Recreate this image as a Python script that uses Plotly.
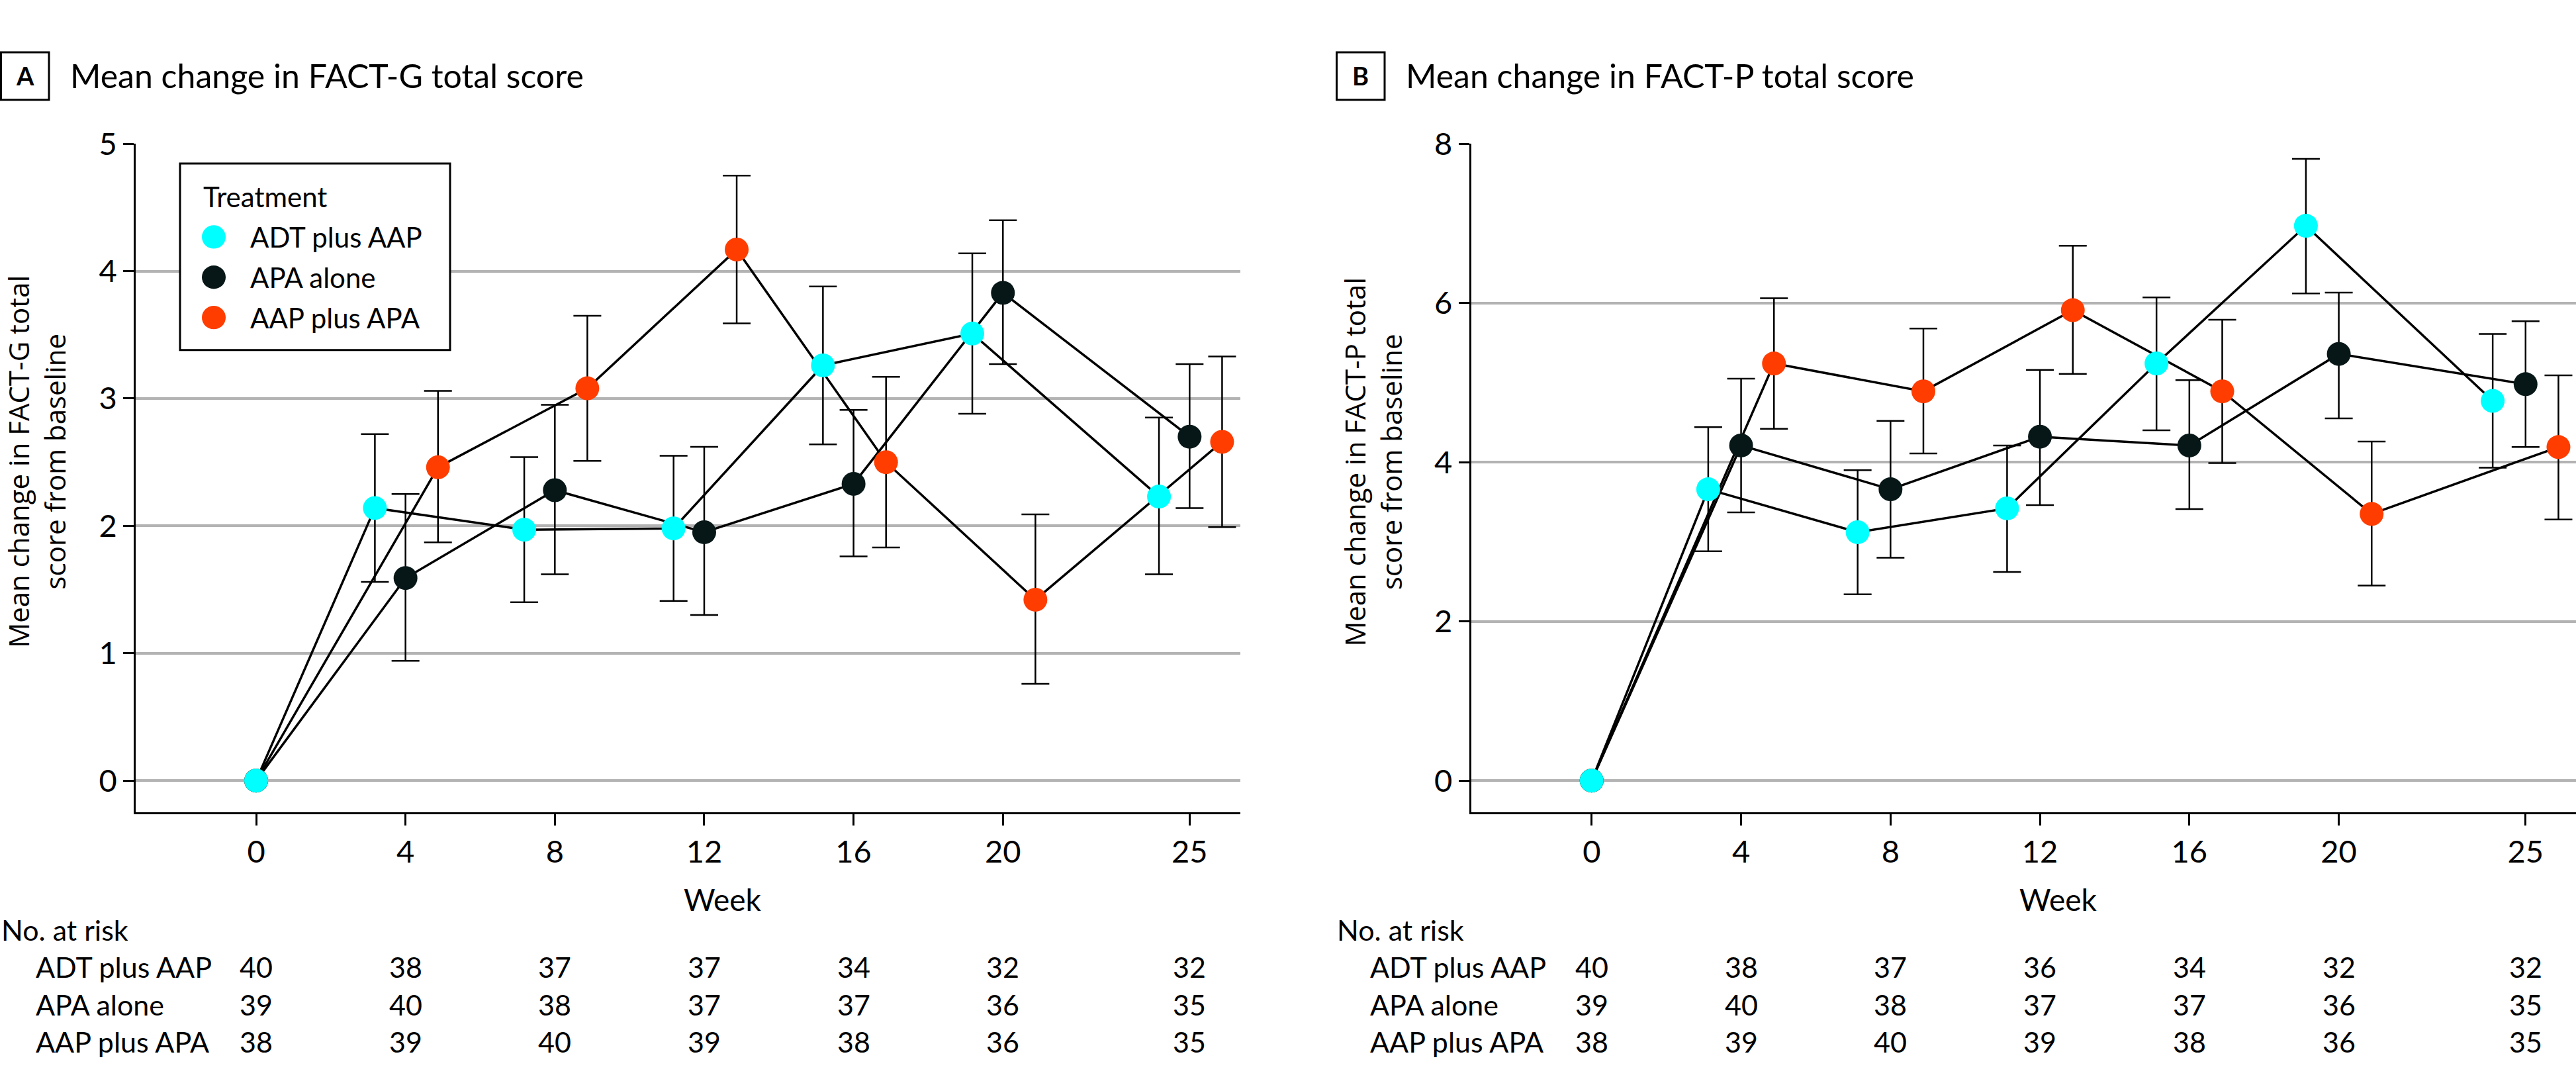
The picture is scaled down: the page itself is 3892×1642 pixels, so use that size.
import plotly.graph_objects as go

W, H = 3892, 1642
FONT = "Lato"
YFONT = "Open Sans"

weeks = [0, 4, 8, 12, 16, 20, 25]
groups = ["ADT plus AAP", "APA alone", "AAP plus APA"]
colors = ["#00ffff", "#071717", "#ff3d00"]

# FACT-G mean change and 95% CI
factg_adt = [0, 2.14, 1.97, 1.98, 3.26, 3.51, 2.23]
factg_adt_lo = [None, 1.56, 1.40, 1.41, 2.64, 2.88, 1.62]
factg_adt_hi = [None, 2.72, 2.54, 2.55, 3.88, 4.14, 2.85]
factg_apa = [0, 1.59, 2.28, 1.95, 2.33, 3.83, 2.70]
factg_apa_lo = [None, 0.94, 1.62, 1.30, 1.76, 3.27, 2.14]
factg_apa_hi = [None, 2.25, 2.95, 2.62, 2.91, 4.40, 3.27]
factg_combo = [0, 2.46, 3.08, 4.17, 2.50, 1.42, 2.66]
factg_combo_lo = [None, 1.87, 2.51, 3.59, 1.83, 0.76, 1.99]
factg_combo_hi = [None, 3.06, 3.65, 4.75, 3.17, 2.09, 3.33]

# FACT-P mean change and 95% CI
factp_adt = [0, 3.66, 3.12, 3.42, 5.24, 6.97, 4.77]
factp_adt_lo = [None, 2.88, 2.34, 2.62, 4.40, 6.12, 3.93]
factp_adt_hi = [None, 4.44, 3.90, 4.21, 6.07, 7.81, 5.61]
factp_apa = [0, 4.21, 3.66, 4.32, 4.21, 5.36, 4.98]
factp_apa_lo = [None, 3.37, 2.80, 3.46, 3.41, 4.55, 4.19]
factp_apa_hi = [None, 5.05, 4.52, 5.16, 5.03, 6.13, 5.77]
factp_combo = [0, 5.24, 4.89, 5.91, 4.89, 3.35, 4.19]
factp_combo_lo = [None, 4.42, 4.11, 5.11, 3.99, 2.45, 3.28]
factp_combo_hi = [None, 6.06, 5.68, 6.72, 5.79, 4.26, 5.09]

# numbers at risk
risk_g_adt = [40, 38, 37, 37, 34, 32, 32]
risk_g_apa = [39, 40, 38, 37, 37, 36, 35]
risk_g_combo = [38, 39, 40, 39, 38, 36, 35]
risk_p_adt = [40, 38, 37, 36, 34, 32, 32]
risk_p_apa = [39, 40, 38, 37, 37, 36, 35]
risk_p_combo = [38, 39, 40, 39, 38, 36, 35]


def fx(px):
    return px / W


def fy(py):
    return 1 - py / H


def dodge(off):
    return [w + off if w > 0 else w for w in weeks]


fig = go.Figure()

panels = [
    ("x", "y", [factg_adt, factg_apa, factg_combo],
     [factg_adt_lo, factg_apa_lo, factg_combo_lo],
     [factg_adt_hi, factg_apa_hi, factg_combo_hi], [-0.82, 0, 0.87]),
    ("x2", "y2", [factp_adt, factp_apa, factp_combo],
     [factp_adt_lo, factp_apa_lo, factp_combo_lo],
     [factp_adt_hi, factp_apa_hi, factp_combo_hi], [-0.88, 0, 0.88]),
]

for xa, ya, means, los, his, offs in panels:
    # error bars + connecting lines first
    for i in [2, 1, 0]:
        xs = dodge(offs[i])
        m, lo, hi = means[i], los[i], his[i]
        fig.add_trace(go.Scatter(
            x=xs[1:], y=m[1:], xaxis=xa, yaxis=ya, mode="markers",
            marker=dict(size=2, opacity=0), showlegend=False, hoverinfo="skip",
            error_y=dict(type="data", symmetric=False,
                         array=[h - v for h, v in zip(hi[1:], m[1:])],
                         arrayminus=[v - l for l, v in zip(lo[1:], m[1:])],
                         color="black", thickness=2.5, width=21)))
        fig.add_trace(go.Scatter(
            x=xs, y=m, xaxis=xa, yaxis=ya, mode="lines",
            line=dict(color="black", width=3.5), showlegend=False, hoverinfo="skip"))
    # markers on top, cyan last
    for i in [2, 1, 0]:
        fig.add_trace(go.Scatter(
            x=dodge(offs[i]), y=means[i], xaxis=xa, yaxis=ya, mode="markers",
            marker=dict(size=36, color=colors[i], line=dict(width=0)),
            name=groups[i], showlegend=False))

axis_common = dict(showline=True, linecolor="black", linewidth=2.5, ticks="outside",
                   tickwidth=2.5, tickcolor="black", zeroline=False,
                   tickfont=dict(family=FONT, size=47, color="black"))

fig.update_layout(
    width=W, height=H, margin=dict(l=0, r=0, t=0, b=0),
    plot_bgcolor="white", paper_bgcolor="white", showlegend=False,
    xaxis=dict(domain=[fx(204.8), fx(1873.5)], range=[-3.23, 26.35], tickvals=weeks,
               ticklen=17, showgrid=False, anchor="y", **axis_common),
    yaxis=dict(domain=[fy(1219.5), fy(190.7)], range=[-0.25, 5], tickvals=[0, 1, 2, 3, 4, 5],
               ticklen=16, showgrid=True, gridcolor="#b3b3b3", gridwidth=4, anchor="x",
               **axis_common),
    xaxis2=dict(domain=[fx(2222.5), 1.0], range=[-3.23, 26.35], tickvals=weeks,
                ticklen=17, showgrid=False, anchor="y2", **axis_common),
    yaxis2=dict(domain=[fy(1219.5), fy(190.7)], range=[-0.4, 8], tickvals=[0, 2, 4, 6, 8],
                ticklen=16, showgrid=True, gridcolor="#b3b3b3", gridwidth=4, anchor="x2",
                **axis_common),
)

shapes = []
ann = []

# panel headers
for left, letter, title in [(0, "A", "Mean change in FACT-G total score"),
                            (2018, "B", "Mean change in FACT-P total score")]:
    shapes.append(dict(type="rect", xref="paper", yref="paper",
                       x0=fx(left + 1.5), x1=fx(left + 74), y0=fy(123), y1=fy(50),
                       line=dict(color="black", width=3)))
    ann.append(dict(text="<b>" + letter + "</b>", x=fx(left + 37.5), y=fy(86),
                    xanchor="center", yanchor="middle",
                    font=dict(family=FONT, size=38, color="black")))
    ann.append(dict(text=title, x=fx(left + 104), y=fy(86), xanchor="left", yanchor="middle",
                    font=dict(family=FONT, size=50, color="black")))

# y-axis titles
for cx, t in [(55, "Mean change in FACT-G total<br>score from baseline"),
              (2074, "Mean change in FACT-P total<br>score from baseline")]:
    ann.append(dict(text=t, x=fx(cx), y=fy(680), xanchor="center", yanchor="middle",
                    textangle=-90, font=dict(family=YFONT, size=42, color="black")))

# legend (drawn by hand to get full-size markers)
shapes.append(dict(type="rect", xref="paper", yref="paper", x0=fx(272), x1=fx(680),
                   y0=fy(508), y1=fy(221), line=dict(color="black", width=3),
                   fillcolor="white", layer="above"))
ann.append(dict(text="Treatment", x=fx(305), y=fy(272), xanchor="left", yanchor="middle",
                font=dict(family=FONT, size=42, color="black")))
for i, cy in enumerate([334, 396, 458]):
    shapes.append(dict(type="circle", xref="paper", yref="paper",
                       x0=fx(305), x1=fx(341), y0=fy(cy + 18), y1=fy(cy - 18),
                       fillcolor=colors[i], line=dict(width=0), layer="above"))
    ann.append(dict(text=groups[i], x=fx(376), y=fy(cy), xanchor="left", yanchor="middle",
                    font=dict(family=FONT, size=42, color="black")))

# x-axis title and numbers at risk
tables = [("x", 0, 52, [risk_g_adt, risk_g_apa, risk_g_combo]),
          ("x2", 2018, 2068, [risk_p_adt, risk_p_apa, risk_p_combo])]
for xr, left, lab_left, rows in tables:
    ann.append(dict(text="Week", xref=xr, x=12.5, y=fy(1353), xanchor="center",
                    yanchor="middle", font=dict(family=FONT, size=46, color="black")))
    ann.append(dict(text="No. at risk", x=fx(left), y=fy(1400), xanchor="left",
                    yanchor="middle", font=dict(family=FONT, size=43, color="black")))
    for r, cy in enumerate([1457, 1515, 1572]):
        ann.append(dict(text=groups[r], x=fx(lab_left), y=fy(cy), xanchor="left",
                        yanchor="middle", font=dict(family=FONT, size=43, color="black")))
        for w, n in zip(weeks, rows[r]):
            ann.append(dict(text=str(n), xref=xr, x=w, y=fy(cy), xanchor="center",
                            yanchor="middle", font=dict(family=FONT, size=43, color="black")))

for a in ann:
    a.setdefault("xref", "paper")
    a["yref"] = "paper"
    a["showarrow"] = False

fig.update_layout(shapes=shapes, annotations=ann)
# drop the browser's default page margin so the figure sits at the window origin
fig.write_html("out.html", config={"displayModeBar": False},
               post_script="document.body.style.margin='0';")
